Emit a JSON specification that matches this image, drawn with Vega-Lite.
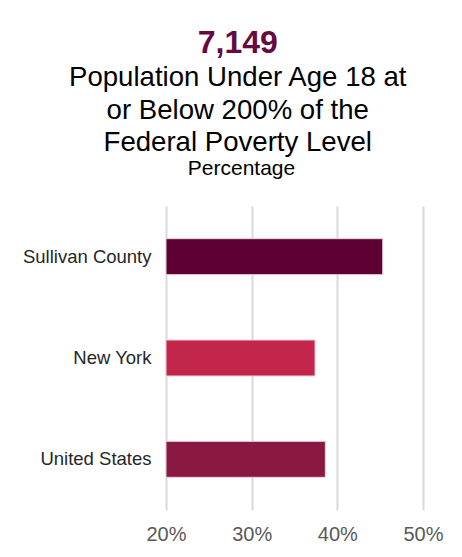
{
  "$schema": "https://vega.github.io/schema/vega-lite/v6.json",
  "padding": {"left": 22, "top": 27, "right": 30, "bottom": 5},
  "background": "white",
  "title": {
    "text": "7,149",
    "subtitle": ["Population Under Age 18 at", "or Below 200% of the", "Federal Poverty Level"],
    "anchor": "middle",
    "font": "Liberation Sans",
    "fontSize": 32,
    "fontWeight": "bold",
    "color": "#660a41",
    "subtitleFont": "Liberation Sans",
    "subtitleFontSize": 27.6,
    "subtitleColor": "#000000",
    "subtitleLineHeight": 32.5,
    "subtitlePadding": 4,
    "offset": 0,
    "dx": 5
  },
  "vconcat": [
    {
      "title": {
        "text": "Percentage",
        "font": "Liberation Sans",
        "fontSize": 21,
        "fontWeight": "normal",
        "color": "#000000",
        "anchor": "middle",
        "frame": "group",
        "dx": -53,
        "offset": 27
      },
      "width": 257,
      "height": 304,
      "data": {
        "values": [
          {"region": "Sullivan County", "pct": 0.453},
          {"region": "New York", "pct": 0.374},
          {"region": "United States", "pct": 0.386}
        ]
      },
      "mark": {"type": "bar", "stroke": "#f0d0da", "strokeWidth": 1},
      "encoding": {
        "y": {
          "field": "region",
          "type": "nominal",
          "sort": null,
          "scale": {"paddingInner": 0.645, "paddingOuter": 0.3225},
          "axis": {
            "title": null,
            "labelFont": "Liberation Sans",
            "labelFontSize": 18.5,
            "labelColor": "#262626",
            "labelPadding": 15,
            "ticks": false,
            "domain": false,
            "grid": false
          }
        },
        "x": {
          "field": "pct",
          "type": "quantitative",
          "scale": {"domain": [0.2, 0.5], "nice": false, "zero": false, "clamp": true},
          "axis": {
            "title": null,
            "values": [0.2, 0.3, 0.4, 0.5],
            "format": ".0%",
            "labelFont": "Liberation Sans",
            "labelFontSize": 20,
            "labelColor": "#595959",
            "labelPadding": 14,
            "labelFlush": false,
            "ticks": false,
            "domain": false,
            "grid": true,
            "gridColor": "#d9d9d9",
            "gridWidth": 2
          }
        },
        "color": {
          "field": "region",
          "type": "nominal",
          "scale": {
            "domain": ["Sullivan County", "New York", "United States"],
            "range": ["#5f0035", "#c2264b", "#891942"]
          },
          "legend": null
        }
      }
    }
  ],
  "config": {"view": {"stroke": null}}
}
